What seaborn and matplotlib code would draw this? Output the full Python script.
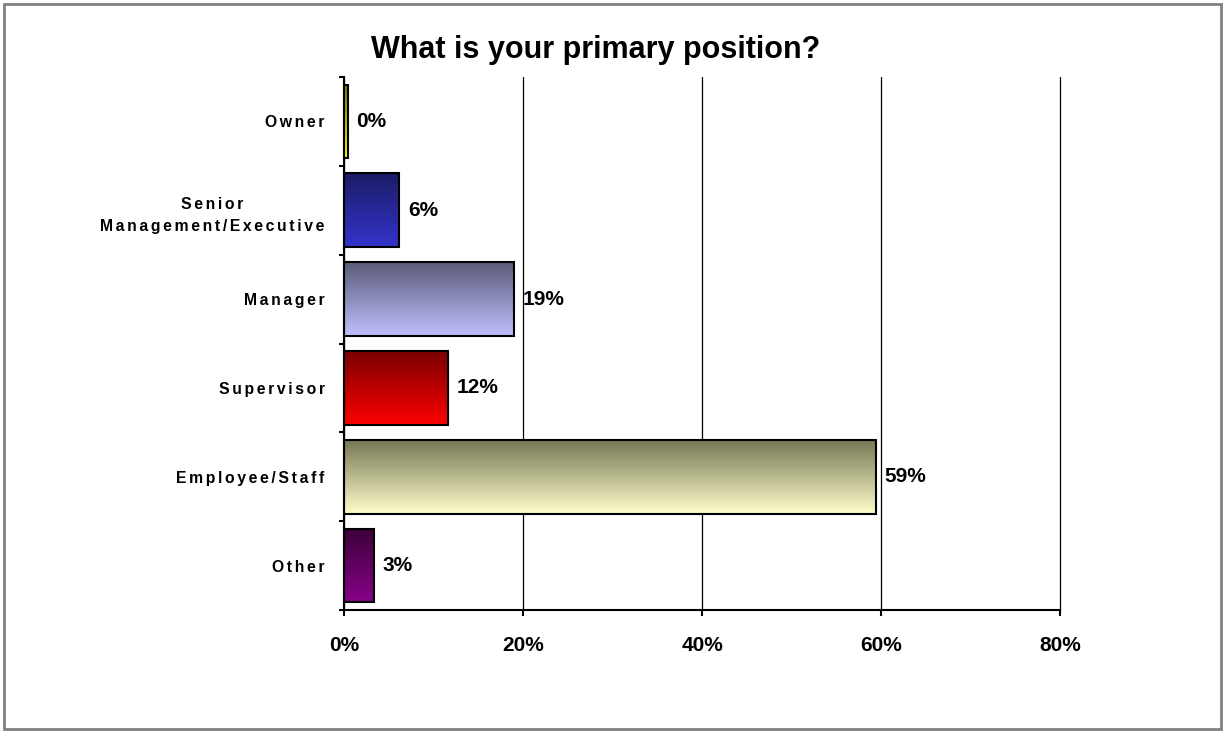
import matplotlib
matplotlib.use("Agg")
import matplotlib.pyplot as plt
import matplotlib.colors as mcolors
from matplotlib.patches import Rectangle
import numpy as np
import pandas as pd
import seaborn as sns

categories = ["Owner", "Senior\nManagement/Executive", "Manager", "Supervisor",
              "Employee/Staff", "Other"]
shares = [0.4, 6.2, 19.0, 11.6, 59.4, 3.3]
x_ticks = [0, 20, 40, 60, 80]
x_tick_labels = ["0%", "20%", "40%", "60%", "80%"]
# top / bottom colours of each bar's vertical gradient
grad_top = ["#7a7a00", "#1c1c66", "#5a5a78", "#7a0000", "#777755", "#3a0038"]
grad_bottom = ["#ffff00", "#3333cc", "#c0c0ff", "#ff0000", "#ffffcc", "#880088"]

sns.set_theme(style="white")
plt.rcParams["font.family"] = ["Liberation Sans", "DejaVu Sans"]
plt.rcParams["text.color"] = "black"
plt.rcParams["xtick.color"] = "black"
plt.rcParams["ytick.color"] = "black"


def spaced(label):
    """Widen the tracking of an axis label with six-per-em spaces."""
    return "\n".join("\u2006".join(line) for line in label.split("\n"))


df = pd.DataFrame({"position": categories, "share": shares})

fig = plt.figure(figsize=(12.25, 7.32), dpi=100)
ax = fig.add_axes([344 / 1225, 1 - 610 / 732, (1060 - 344) / 1225, (610 - 77) / 732])

sns.barplot(data=df, y="position", x="share", orient="h", ax=ax,
            width=0.83, color="white", edgecolor="black", linewidth=1.5,
            zorder=3)

# vertical gradient fill inside each bar, dark at the top
for patch, c0, c1 in zip(ax.patches, grad_top, grad_bottom):
    x0, y0 = patch.get_x(), patch.get_y()
    w, h = patch.get_width(), patch.get_height()
    cmap = mcolors.LinearSegmentedColormap.from_list("g", [c0, c1])
    grad = np.linspace(0, 1, 256).reshape(-1, 1)
    im = ax.imshow(grad, cmap=cmap, aspect="auto",
                   extent=(x0, x0 + w, y0 + h, y0), origin="upper",
                   zorder=2.5, interpolation="bilinear")
    im.set_clip_path(patch)
    patch.set_facecolor("none")
    patch.set_zorder(4)

for i, v in enumerate(shares):
    ax.text(v + 1.0, i, f"{v:.0f}%", va="center", ha="left",
            fontsize=15, fontweight="bold", color="black", zorder=5)

ax.set_xlim(0, 80)
ax.set_ylim(len(categories) - 0.5, -0.5)
ax.set_xticks(x_ticks)
ax.set_xticklabels(x_tick_labels, fontsize=15, fontweight="bold")
ax.set_xlabel("")
ax.set_ylabel("")
ax.set_yticks(range(len(categories)))
ax.set_yticklabels([spaced(c) for c in categories], fontsize=11.3,
                   fontweight="bold")
for lbl in ax.get_yticklabels():
    lbl.set_multialignment("center")
    lbl.set_linespacing(1.6)
ax.tick_params(axis="y", length=0, pad=14)
ax.tick_params(axis="x", length=4.5, width=1.5, direction="out", bottom=True,
               pad=14)

# category boundary ticks on the y axis
ax.set_yticks(np.arange(-0.5, len(categories), 1), minor=True)
ax.tick_params(axis="y", which="minor", length=3.8, width=1.5,
               direction="out", left=True)

ax.xaxis.grid(True, color="black", linewidth=0.9, zorder=0)
for gl in ax.get_xgridlines():
    gl.set_clip_on(False)
ax.set_axisbelow(True)
for side in ["top", "right"]:
    ax.spines[side].set_visible(False)
for side in ["left", "bottom"]:
    ax.spines[side].set_color("black")
    ax.spines[side].set_linewidth(1.5)

fig.text(596 / 1225, 1 - 50 / 732, "What is your primary position?",
         ha="center", va="center", fontsize=22, fontweight="bold")

fig.patches.append(Rectangle((4 / 1225, 3 / 732), 1217 / 1225, 725 / 732,
                             transform=fig.transFigure, fill=False,
                             edgecolor="#808080", linewidth=2))

fig.savefig("out.png", dpi=100, facecolor="white")
